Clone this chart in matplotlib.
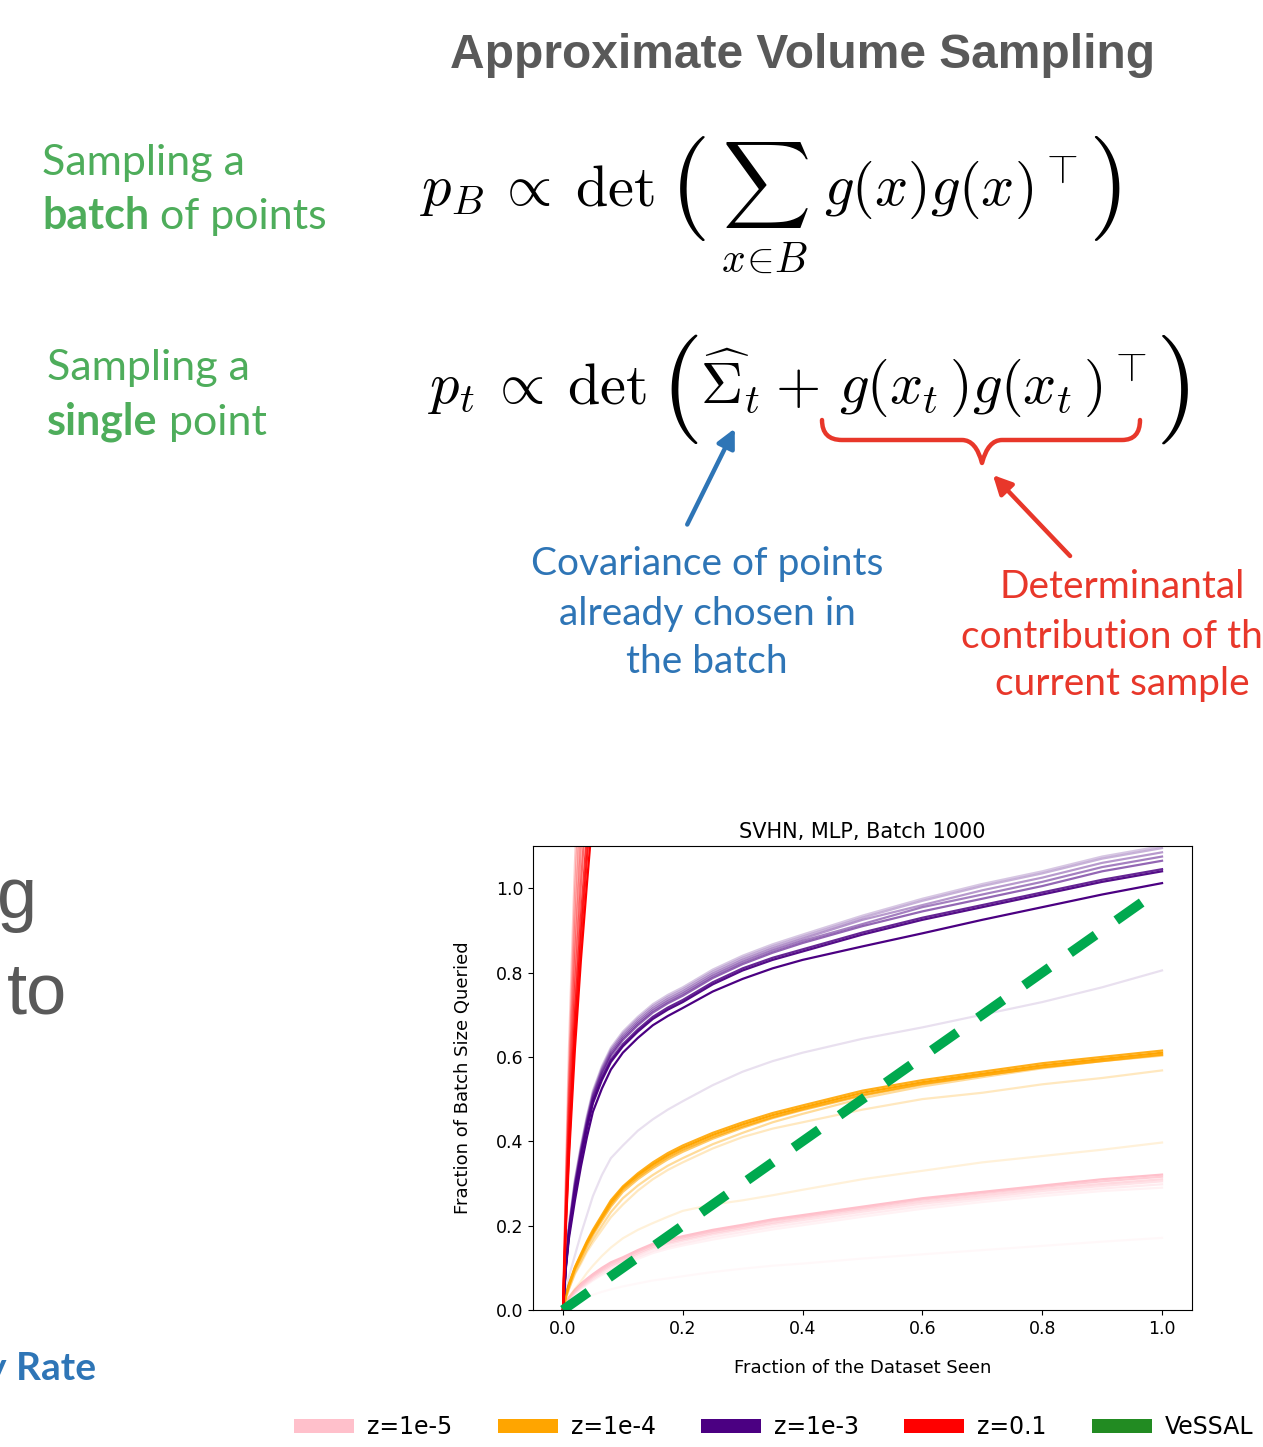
import matplotlib
matplotlib.use('Agg')
import matplotlib.pyplot as plt
from matplotlib.patches import Patch, FancyArrowPatch, PathPatch
from matplotlib.path import Path
from matplotlib.text import Annotation

W, H = 1263, 1447


def fx(px):
    return px / W


def fy(py):
    return 1 - py / H


# ---------------- data ----------------
x_grid = [0, 0.005, 0.01, 0.02, 0.03, 0.04, 0.05, 0.065, 0.08, 0.1, 0.125, 0.15,
          0.175, 0.2, 0.25, 0.3, 0.35, 0.4, 0.5, 0.6, 0.7, 0.8, 0.9, 1.0]

purple_runs = [
    [0, .10, .17, .26, .34, .41, .47, .525, .57, .61, .645, .675, .697, .716, .755, .785, .81, .83, .862, .893, .925, .955, .985, 1.012],
    [0, .105, .18, .28, .36, .43, .49, .545, .588, .625, .66, .69, .712, .73, .772, .805, .83, .85, .89, .925, .955, .985, 1.015, 1.04],
    [0, .105, .18, .285, .365, .435, .495, .55, .593, .63, .665, .695, .717, .735, .777, .81, .835, .855, .895, .93, .96, .99, 1.02, 1.045],
    [0, .11, .19, .29, .37, .44, .50, .558, .602, .64, .675, .705, .727, .745, .787, .82, .847, .87, .91, .945, .975, 1.005, 1.04, 1.065],
    [0, .11, .19, .295, .375, .445, .505, .563, .607, .645, .68, .71, .732, .75, .792, .825, .852, .875, .915, .955, .985, 1.015, 1.05, 1.075],
    [0, .11, .19, .30, .38, .45, .51, .568, .612, .65, .685, .715, .737, .755, .797, .83, .857, .88, .925, .96, .995, 1.025, 1.06, 1.085],
    [0, .115, .20, .305, .385, .455, .515, .573, .617, .655, .69, .72, .742, .76, .802, .835, .862, .885, .93, .97, 1.005, 1.035, 1.07, 1.095],
    [0, .115, .20, .31, .39, .46, .52, .578, .622, .66, .695, .725, .747, .765, .807, .84, .867, .89, .935, .975, 1.01, 1.04, 1.075, 1.10],
    [0, .05, .08, .13, .18, .225, .27, .32, .36, .39, .425, .452, .475, .495, .533, .565, .59, .61, .643, .67, .70, .73, .765, .805],
]
purple_alpha = [1.0, 0.95, 0.85, 0.6, 0.5, 0.4, 0.3, 0.22, 0.12]

orange_runs = [
    [0, .035, .06, .10, .13, .16, .185, .22, .255, .29, .32, .345, .367, .385, .415, .44, .462, .48, .515, .54, .56, .58, .595, .61],
    [0, .036, .062, .102, .133, .163, .19, .225, .26, .293, .324, .35, .372, .39, .42, .445, .467, .485, .52, .545, .565, .585, .60, .615],
    [0, .034, .058, .098, .127, .157, .182, .217, .25, .286, .315, .34, .362, .38, .41, .435, .457, .476, .51, .536, .556, .575, .59, .605],
    [0, .032, .055, .095, .123, .152, .178, .212, .245, .28, .31, .335, .357, .375, .406, .432, .455, .474, .508, .535, .556, .576, .592, .606],
    [0, .029, .05, .088, .115, .143, .168, .20, .232, .265, .295, .32, .342, .36, .393, .42, .445, .465, .502, .53, .552, .573, .59, .603],
    [0, .028, .05, .085, .11, .138, .16, .19, .22, .25, .283, .31, .332, .35, .383, .41, .43, .445, .475, .50, .515, .535, .55, .568],
    [0, .017, .03, .05, .068, .088, .105, .128, .148, .17, .19, .206, .221, .235, .25, .26, .272, .285, .31, .33, .35, .365, .38, .397],
]
orange_alpha = [1.0, 0.9, 0.8, 0.6, 0.4, 0.25, 0.15]

pink_runs = [
    [0, .02, .03, .048, .062, .074, .085, .10, .113, .125, .142, .157, .167, .175, .19, .202, .215, .225, .245, .265, .28, .295, .31, .321],
    [0, .019, .029, .046, .06, .072, .083, .097, .11, .122, .139, .154, .164, .172, .187, .199, .212, .222, .242, .262, .277, .292, .305, .316],
    [0, .018, .028, .044, .057, .069, .08, .094, .106, .118, .135, .15, .16, .168, .183, .195, .207, .218, .238, .257, .272, .287, .299, .31],
    [0, .017, .027, .042, .055, .066, .077, .091, .103, .115, .131, .146, .156, .164, .179, .191, .203, .213, .233, .252, .267, .282, .294, .305],
    [0, .016, .025, .04, .052, .063, .073, .087, .098, .11, .126, .14, .15, .158, .173, .185, .197, .207, .227, .246, .262, .276, .288, .298],
    [0, .015, .024, .038, .05, .06, .07, .083, .094, .106, .121, .135, .145, .153, .167, .179, .191, .201, .221, .24, .256, .27, .282, .29],
    [0, .006, .01, .018, .025, .031, .036, .043, .049, .056, .063, .07, .075, .08, .09, .098, .105, .11, .122, .132, .142, .152, .162, .171],
]
pink_alpha = [1.0, 0.8, 0.6, 0.45, 0.3, 0.2, 0.1]

x_red = [0, 0.005, 0.01, 0.02, 0.03, 0.04, 0.05, 0.06]
red_runs = [
    [0, 0.20, 0.36, 0.62, 0.83, 1.01, 1.18, 1.35],
    [0, 0.21, 0.38, 0.66, 0.88, 1.07, 1.25, 1.42],
    [0, 0.22, 0.40, 0.70, 0.93, 1.13, 1.31, 1.50],
    [0, 0.24, 0.44, 0.76, 1.01, 1.22, 1.40, 1.60],
    [0, 0.26, 0.48, 0.83, 1.10, 1.33, 1.50, 1.70],
    [0, 0.28, 0.52, 0.90, 1.20, 1.45, 1.65, 1.85],
    [0, 0.30, 0.56, 0.98, 1.30, 1.56, 1.80, 2.00],
    [0, 0.33, 0.62, 1.06, 1.40, 1.70, 1.95, 2.20],
]
red_alpha = [1.0, 0.9, 0.8, 0.6, 0.45, 0.35, 0.25, 0.2]

vessal_x = [0.0, 1.0]
vessal_y = [0.0, 1.0]

legend_labels = ['z=1e-5', 'z=1e-4', 'z=1e-3', 'z=0.1', 'VeSSAL']
legend_colors = ['pink', 'orange', 'indigo', 'red', 'forestgreen']

x_ticks = [0.0, 0.2, 0.4, 0.6, 0.8, 1.0]
y_ticks = [0.0, 0.2, 0.4, 0.6, 0.8, 1.0]

# ---------------- figure ----------------
plt.rcParams['font.family'] = ['DejaVu Sans']
plt.rcParams['mathtext.fontset'] = 'cm'
fig = plt.figure(figsize=(W / 100, H / 100), dpi=100)

ax = fig.add_axes([fx(533), fy(1310), fx(1192) - fx(533), fy(846) - fy(1310)])
for ys, a in zip(pink_runs, pink_alpha):
    ax.plot(x_grid, ys, color='pink', alpha=a, lw=1.6)
for ys, a in zip(orange_runs, orange_alpha):
    ax.plot(x_grid, ys, color='orange', alpha=a, lw=1.6)
for ys, a in zip(purple_runs, purple_alpha):
    ax.plot(x_grid, ys, color='indigo', alpha=a, lw=1.6)
for ys, a in zip(red_runs, red_alpha):
    ax.plot(x_red, ys, color='red', alpha=a, lw=1.6)
ax.plot(vessal_x, vessal_y, color='#00A94F', lw=7, dashes=(3.2, 2.6))

ax.set_xlim(-0.05, 1.05)
ax.set_ylim(0, 1.1)
ax.set_xticks(x_ticks)
ax.set_yticks(y_ticks)
ax.tick_params(labelsize=12.5)
ax.set_title('SVHN, MLP, Batch 1000', fontsize=15)
ax.set_xlabel('Fraction of the Dataset Seen', fontsize=13, labelpad=15)
ax.set_ylabel('Fraction of Batch Size Queried', fontsize=13, labelpad=17)

handles = [Patch(facecolor=c, edgecolor='none') for c in legend_colors]
fig.legend(handles, legend_labels, loc='center left', bbox_to_anchor=(fx(294), fy(1427)),
           ncol=5, frameon=False, fontsize=17, handlelength=2.54, handleheight=0.55,
           handletextpad=0.55, columnspacing=1.92, borderpad=0, borderaxespad=0)

# ---------------- slide texts ----------------
gray = '#595959'
green = '#4EAD5B'
blue = '#2E75B6'
redc = '#E8372A'
sans = ['Liberation Sans', 'DejaVu Sans']
gfont = ['Lato', 'DejaVu Sans']

fig.text(fx(803), fy(68), 'Approximate Volume Sampling', ha='center', va='baseline',
         fontsize=34.5, fontweight='bold', color=gray, family=sans)

gsize = 31
fig.text(fx(42), fy(175), 'Sampling a', ha='left', va='baseline', fontsize=gsize, color=green, family=gfont)
t1 = fig.text(fx(42), fy(229), 'batch', ha='left', va='baseline', fontsize=gsize, color=green,
              family=gfont, fontweight='bold')
fig.add_artist(Annotation(' of points', xy=(1, 0), xycoords=t1, ha='left', va='bottom',
                          fontsize=gsize, color=green, family=gfont))
fig.text(fx(47), fy(380), 'Sampling a', ha='left', va='baseline', fontsize=gsize, color=green, family=gfont)
t2 = fig.text(fx(47), fy(434), 'single', ha='left', va='baseline', fontsize=gsize, color=green,
              family=gfont, fontweight='bold')
fig.add_artist(Annotation(' point', xy=(1, 0), xycoords=t2, ha='left', va='bottom',
                          fontsize=gsize, color=green, family=gfont))

# formula 1 (pieces)
fs = 42
fig.text(fx(420), fy(205), r'$p_B$', ha='left', va='baseline', fontsize=fs)
fig.text(fx(496), fy(205), r'$\propto$', ha='left', va='baseline', fontsize=fs)
fig.text(fx(575), fy(205), r'$\mathrm{det}$', ha='left', va='baseline', fontsize=fs)
fig.text(fx(669), fy(215), r'$($', ha='left', va='baseline', fontsize=75)
fig.text(fx(722), fy(205), r'$\sum$', ha='left', va='baseline', fontsize=44)
fig.text(fx(765), fy(272), r'$x\!\in\! B$', ha='center', va='baseline', fontsize=30)
fig.text(fx(824), fy(205), r'$g(x)g(x)^{\top}$', ha='left', va='baseline', fontsize=fs)
fig.text(fx(1088), fy(215), r'$)$', ha='left', va='baseline', fontsize=75)

# formula 2 (pieces)
fig.text(fx(428), fy(403), r'$p_t$', ha='left', va='baseline', fontsize=fs)
fig.text(fx(489), fy(403), r'$\propto$', ha='left', va='baseline', fontsize=fs)
fig.text(fx(567), fy(403), r'$\mathrm{det}$', ha='left', va='baseline', fontsize=fs)
fig.text(fx(660), fy(417), r'$($', ha='left', va='baseline', fontsize=79)
fig.text(fx(700), fy(403), r'$\widehat{\Sigma}_t$', ha='left', va='baseline', fontsize=fs)
fig.text(fx(775), fy(403), r'$+$', ha='left', va='baseline', fontsize=fs)
fig.text(fx(839), fy(403), r'$g(x_t\,)g(x_t\,)^{\top}$', ha='left', va='baseline', fontsize=fs)
fig.text(fx(1155), fy(417), r'$)$', ha='left', va='baseline', fontsize=79)

bsize = 28
blue_lines = ['Covariance of points', 'already chosen in', 'the batch']
for s, yb in zip(blue_lines, [575, 625, 673]):
    fig.text(fx(707), fy(yb), s, ha='center', va='baseline', fontsize=bsize, color=blue, family=gfont)
red_lines = ['Determinantal', 'contribution of the', 'current sample']
for s, yb in zip(red_lines, [598, 648, 695]):
    fig.text(fx(1122), fy(yb), s, ha='center', va='baseline', fontsize=bsize, color=redc, family=gfont)

fig.text(fx(-3), fy(918), 'g', ha='left', va='baseline', fontsize=52, color=gray, family=sans)
fig.text(fx(7), fy(1013), 'to', ha='left', va='baseline', fontsize=52, color=gray, family=sans)
fig.text(fx(96), fy(1380), 'y Rate', ha='right', va='baseline', fontsize=28, color=blue,
         family=gfont, fontweight='bold')

# arrows
fig.add_artist(FancyArrowPatch((fx(686), fy(527)), (fx(736), fy(426)), transform=fig.transFigure,
                               arrowstyle='-|>', mutation_scale=28, lw=3.2, color=blue))
fig.add_artist(FancyArrowPatch((fx(1072), fy(558)), (fx(991), fy(473)), transform=fig.transFigure,
                               arrowstyle='-|>', mutation_scale=28, lw=3.2, color=redc))

# curly brace under g(x_t)g(x_t)^T
bp = [(822, 420), (822, 440), (842, 440), (962, 440), (976, 440), (982, 463),
      (988, 440), (1002, 440), (1122, 440), (1140, 440), (1140, 420)]
verts = [(fx(a), fy(b)) for a, b in bp]
codes = [Path.MOVETO, Path.CURVE3, Path.CURVE3, Path.LINETO, Path.CURVE3, Path.CURVE3,
         Path.CURVE3, Path.CURVE3, Path.LINETO, Path.CURVE3, Path.CURVE3]
fig.add_artist(PathPatch(Path(verts, codes), transform=fig.transFigure, fill=False,
                         edgecolor=redc, lw=3.2, capstyle='round', joinstyle='round'))

fig.savefig('out.png', dpi=100)
